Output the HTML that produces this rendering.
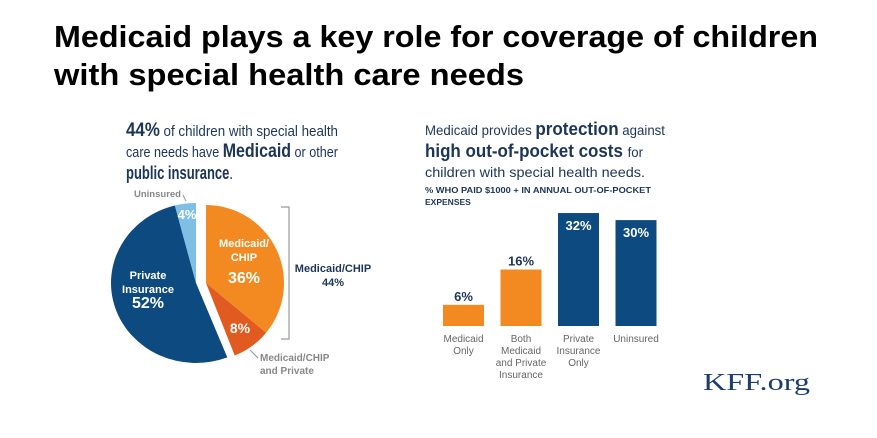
<!DOCTYPE html>
<html><head><meta charset="utf-8"><style>
html,body{margin:0;padding:0;background:#fff;}
svg{display:block;font-family:"Liberation Sans",sans-serif;}
</style></head><body>
<svg width="877" height="438" viewBox="0 0 877 438">
<g font-weight="bold" font-size="31" fill="#000">
<text x="54" y="47" textLength="764" lengthAdjust="spacingAndGlyphs">Medicaid plays a key role for coverage of children</text>
<text x="54" y="85" textLength="470" lengthAdjust="spacingAndGlyphs">with special health care needs</text>
</g>
<g fill="#1d3557">
<text x="126" y="136" font-size="15" textLength="212" lengthAdjust="spacingAndGlyphs"><tspan font-weight="bold" font-size="19">44%</tspan> of children with special health</text>
<text x="126" y="157" font-size="15" textLength="212" lengthAdjust="spacingAndGlyphs">care needs have <tspan font-weight="bold" font-size="19">Medicaid</tspan> or other</text>
<text x="126" y="179" font-size="18" font-weight="bold" textLength="107" lengthAdjust="spacingAndGlyphs">public insurance<tspan font-weight="normal">.</tspan></text>
</g>
<g id="pie"></g>
<g stroke="#999" stroke-width="1.2" fill="none">
<path d="M281 207 H289 V339 H281"/>
</g>
<g font-size="11" font-weight="bold" fill="#1d3557" text-anchor="middle">
<text x="333" y="272">Medicaid/CHIP</text><text x="333" y="286">44%</text>
</g>
<g font-size="9.5" font-weight="bold" fill="#888">
<text x="134" y="197">Uninsured</text>
<line x1="183" y1="195" x2="186" y2="201" stroke="#999"/>
</g>
<g font-size="10" font-weight="bold" fill="#888">
<line x1="250" y1="350" x2="258" y2="358" stroke="#999"/>
<text x="260" y="361">Medicaid/CHIP</text><text x="260" y="374">and Private</text>
</g>
<g fill="#1d3557">
<text x="425" y="135" font-size="14" textLength="240" lengthAdjust="spacingAndGlyphs">Medicaid provides <tspan font-weight="bold" font-size="18">protection</tspan> against</text>
<text x="425" y="157" font-size="18" font-weight="bold" textLength="218" lengthAdjust="spacingAndGlyphs">high out-of-pocket costs <tspan font-weight="normal" font-size="14">for</tspan></text>
<text x="425" y="177" font-size="14" textLength="220" lengthAdjust="spacingAndGlyphs">children with special health needs.</text>
<text x="425" y="193" font-size="8.5" font-weight="bold" textLength="226" lengthAdjust="spacingAndGlyphs">%  WHO PAID $1000 +  IN ANNUAL OUT-OF-POCKET</text>
<text x="425" y="205" font-size="8.5" font-weight="bold">EXPENSES</text>
</g>
<g id="bars"></g>
<text x="703" y="390" font-family="Liberation Serif,serif" font-size="24" fill="#1d3d6e" textLength="107" lengthAdjust="spacingAndGlyphs">KFF.org</text>
</svg>
<script>
const pieLabels=["Medicaid/CHIP","Medicaid/CHIP and Private","Private Insurance","Uninsured"];
const pieValues=[36,8,52,4];
const pieColors=["#f28a21","#e15a20","#0d4a80","#7fbfe6"];
const barCats=[["Medicaid","Only"],["Both","Medicaid","and Private","Insurance"],["Private","Insurance","Only"],["Uninsured"]];
const barValues=[6,16,32,30];
const barColors=["#f28a21","#f28a21","#0d4a80","#0d4a80"];
const NS="http://www.w3.org/2000/svg";
function mk(t,a,p){const e=document.createElementNS(NS,t);for(const k in a)e.setAttribute(k,a[k]);p.appendChild(e);return e;}
// pie
const pie=document.getElementById('pie');
const total=pieValues.reduce((a,b)=>a+b,0);
let acc=0;
pieValues.forEach((v,i)=>{
  const a0=acc/total*2*Math.PI, a1=(acc+v)/total*2*Math.PI; acc+=v;
  const orange=i<2;
  const cx=orange?206:196, cy=283, r=orange?78:80, rx=orange?78:85;
  const p=a=>[cx+rx*Math.sin(a), cy-r*Math.cos(a)];
  const s=p(a0), e=p(a1), large=(a1-a0)>Math.PI?1:0;
  const path=mk('path',{d:`M${cx},${cy} L${s[0]},${s[1]} A${rx},${r} 0 ${large} 1 ${e[0]},${e[1]} Z`,fill:pieColors[i]},pie);
  
  
});
const pl=[{t:["Medicaid/","CHIP"],x:244,y:247,s:11},{t:["Private","Insurance"],x:148,y:279,s:11}];
pl.forEach(o=>{o.t.forEach((l,j)=>{const t=mk('text',{x:o.x,y:o.y+j*14,'font-size':o.s,'font-weight':'bold',fill:'#fff','text-anchor':'middle'},pie);t.textContent=l;
});});
[[pieValues[0]+'%',244,283,16],[pieValues[1]+'%',240,333,14],[pieValues[2]+'%',148,308,16],[pieValues[3]+'%',187,219,13]].forEach(d=>{
  const t=mk('text',{x:d[1],y:d[2],'font-size':d[3],'font-weight':'bold',fill:'#fff','text-anchor':'middle'},pie);t.textContent=d[0];
  });
// bars
const bars=document.getElementById('bars');
const base=326, pxPer=3.53, x0=443, step=57.5, bw=41;
const y=v=>base-v*pxPer;
barValues.forEach((v,i)=>{
  const x=x0+i*step;
  const r=mk('rect',{x:x,y:y(v),width:bw,height:base-y(v),fill:barColors[i]},bars);
  
  
  const inside=v>25;
  const t=mk('text',{x:x+bw/2,y:inside?y(v)+17:y(v)-4,'font-size':13,'font-weight':'bold',fill:inside?'#fff':'#1d3557','text-anchor':'middle'},bars);
  t.textContent=v+'%';
  
  
  barCats[i].forEach((l,j)=>{
    const c=mk('text',{x:x+bw/2,y:342+j*12,'font-size':10,fill:'#666','text-anchor':'middle'},bars);
    c.textContent=l;
    
    
  });
});
</script>
</body></html>
